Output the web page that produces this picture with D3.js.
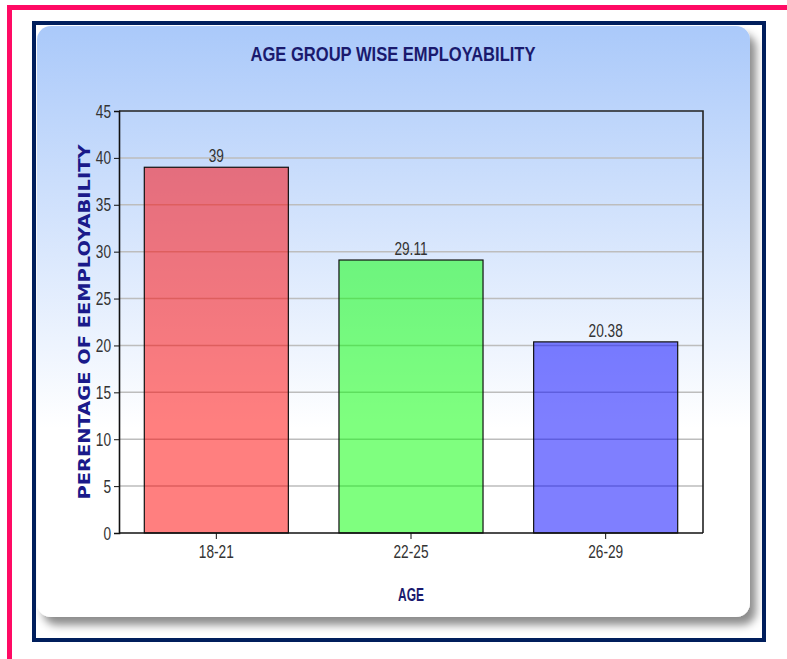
<!DOCTYPE html>
<html>
<head>
<meta charset="utf-8">
<script src="https://cdn.jsdelivr.net/npm/d3@7"></script>
<style>
  html, body { margin: 0; padding: 0; background: #ffffff; }
  svg { display: block; }
  .narrow { font-family: "Liberation Sans", Arial, sans-serif; }
</style>
</head>
<body>
<svg id="chart" width="787" height="659"></svg>
<script>
// Employability by age group (percent)
const categories = ["18-21", "22-25", "26-29"];
const values = [39, 29.11, 20.38];
const valueLabels = ["39", "29.11", "20.38"];
const barColors = ["rgba(255,0,0,0.5)", "rgba(0,255,0,0.5)", "rgba(0,0,255,0.5)"];
const yTicks = [0, 5, 10, 15, 20, 25, 30, 35, 40, 45];

const svg = d3.select("#chart");
const defs = svg.append("defs");

const bg = defs.append("linearGradient")
  .attr("id", "panelGrad").attr("x1", 0).attr("y1", 0).attr("x2", 0).attr("y2", 1);
bg.append("stop").attr("offset", 0).attr("stop-color", "#aac9fa");
bg.append("stop").attr("offset", 0.68).attr("stop-color", "#ffffff");
bg.append("stop").attr("offset", 1).attr("stop-color", "#ffffff");

const shadow = defs.append("filter").attr("id", "panelShadow")
  .attr("x", "-5%").attr("y", "-5%").attr("width", "115%").attr("height", "115%");
shadow.append("feDropShadow")
  .attr("dx", 6).attr("dy", 8).attr("stdDeviation", 4)
  .attr("flood-color", "#000").attr("flood-opacity", 0.45);

// Condense text horizontally around its own anchor point
function condense(sel, s) {
  sel.each(function () {
    const t = d3.select(this);
    const tx = +t.attr("x") || 0, ty = +t.attr("y") || 0;
    t.attr("x", 0).attr("y", 0)
      .attr("transform", `translate(${tx},${ty}) scale(${s},1)`);
  });
}

// outer frames
svg.append("rect").attr("x", 9.5).attr("y", 7.5).attr("width", 900).attr("height", 900)
  .attr("fill", "none").attr("stroke", "#ff0a64").attr("stroke-width", 5);
svg.append("rect").attr("x", 34).attr("y", 23).attr("width", 730).attr("height", 617)
  .attr("fill", "#ffffff").attr("stroke", "#001e5c").attr("stroke-width", 4);

// rounded chart panel
svg.append("rect").attr("x", 37).attr("y", 26).attr("width", 713).attr("height", 591)
  .attr("rx", 14).attr("ry", 14)
  .attr("fill", "url(#panelGrad)").attr("filter", "url(#panelShadow)");

const plot = { left: 119, right: 703, top: 111, bottom: 533 };

const x = d3.scaleBand().domain(categories)
  .range([plot.left, plot.right]).paddingInner(0.26).paddingOuter(0.13);
const y = d3.scaleLinear().domain([0, 45]).range([plot.bottom, plot.top]);

// grid
svg.append("g").selectAll("line").data(yTicks.slice(1, -1)).join("line")
  .attr("x1", plot.left).attr("x2", plot.right)
  .attr("y1", d => y(d)).attr("y2", d => y(d))
  .attr("stroke", "#bdbdbd").attr("stroke-width", 1.5);

// plot border (top and right)
svg.append("path")
  .attr("d", `M${plot.left},${plot.top}H${plot.right}V${plot.bottom}`)
  .attr("fill", "none").attr("stroke", "#222").attr("stroke-width", 1.6);

// bars
svg.append("g").selectAll("rect").data(values).join("rect")
  .attr("x", (d, i) => x(categories[i]))
  .attr("y", d => y(d))
  .attr("width", x.bandwidth())
  .attr("height", d => y(0) - y(d))
  .attr("fill", (d, i) => barColors[i])
  .attr("stroke", "#111").attr("stroke-width", 1.2);

// value labels
svg.append("g").selectAll("text").data(values).join("text")
  .attr("class", "narrow")
  .attr("x", (d, i) => x(categories[i]) + x.bandwidth() / 2)
  .attr("y", d => y(d) - 5)
  .attr("text-anchor", "middle")
  .attr("font-size", 19).attr("fill", "#333")
  .text((d, i) => valueLabels[i])
  .call(condense, 0.72);

// axes
const yAxis = svg.append("g").attr("transform", `translate(${plot.left},0)`)
  .call(d3.axisLeft(y).tickValues(yTicks).tickSize(5).tickPadding(3));
const xAxis = svg.append("g").attr("transform", `translate(0,${plot.bottom})`)
  .call(d3.axisBottom(x).tickSize(6).tickPadding(5));
[yAxis, xAxis].forEach(g => {
  g.select(".domain").attr("stroke", "#111").attr("stroke-width", 1.6);
  g.selectAll(".tick line").attr("stroke", "#111");
  g.selectAll(".tick text").attr("class", "narrow")
    .attr("font-size", 19).attr("fill", "#333")
    .call(condense, 0.72);
});
xAxis.select(".domain").attr("d", `M${plot.left},0H${plot.right}`);

// titles
svg.append("text").attr("class", "narrow")
  .attr("x", 393).attr("y", 61).attr("text-anchor", "middle")
  .attr("font-size", 21).attr("font-weight", "bold").attr("fill", "#1a1a6e")
  .attr("textLength", 285).attr("lengthAdjust", "spacingAndGlyphs")
  .text("AGE GROUP WISE EMPLOYABILITY");

svg.append("text").attr("class", "narrow")
  .attr("x", 411).attr("y", 601).attr("text-anchor", "middle")
  .attr("font-size", 18).attr("font-weight", "bold").attr("fill", "#1a1a6e")
  .attr("textLength", 26).attr("lengthAdjust", "spacingAndGlyphs")
  .text("AGE");

svg.append("text")
  .attr("transform", "translate(90,322) rotate(-90)")
  .attr("text-anchor", "middle")
  .attr("font-family", "'DejaVu Sans', Verdana, sans-serif")
  .attr("font-size", 15).attr("font-weight", "bold").attr("fill", "#1a1a8a")
  .attr("textLength", 355).attr("lengthAdjust", "spacingAndGlyphs")
  .text("PERENTAGE OF EEMPLOYABILITY");
</script>
</body>
</html>
